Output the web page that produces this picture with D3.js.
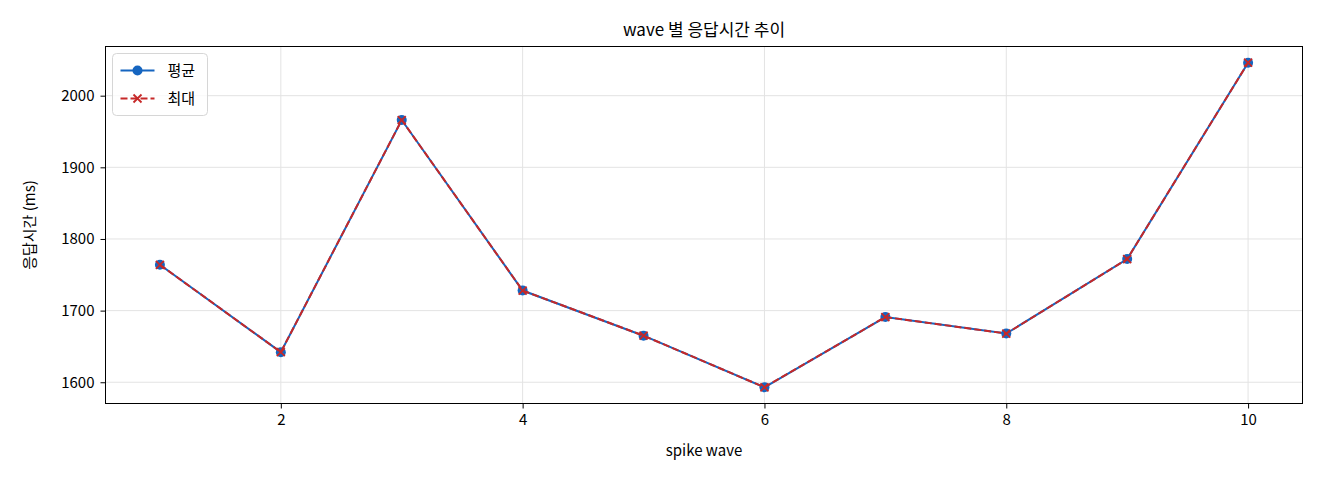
<!DOCTYPE html>
<html>
<head>
<meta charset="utf-8">
<script src="https://cdn.jsdelivr.net/npm/d3@7"></script>
<style>
  body { margin: 0; background: #fff; }
  text { font-family: "Noto Sans CJK KR", "Noto Sans", sans-serif; fill: #000; }
</style>
</head>
<body>
<svg width="1320" height="480"></svg>
<script>
let waves = [1, 2, 3, 4, 5, 6, 7, 8, 9, 10];
let avgMs = [1764, 1642, 1966, 1728, 1665, 1593, 1691, 1668, 1772, 2046];
let maxMs = [1764, 1642, 1966, 1728, 1665, 1593, 1691, 1668, 1772, 2046];
let xTicks = [2, 4, 6, 8, 10];
let yTicks = [1600, 1700, 1800, 1900, 2000];

let svg = d3.select("svg");
let m = { left: 105.5, top: 46.5, right: 1302.5, bottom: 403.5 };
let blue = "#1565C0";
let red = "#C62828";

let x = d3.scaleLinear().domain([0.55, 10.45]).range([m.left, m.right]);
let y = d3.scaleLinear().domain([1570.35, 2068.65]).range([m.bottom, m.top]);

//grid
let grid = svg.append("g").attr("stroke", "#e3e3e3").attr("stroke-width", 1);
grid.selectAll(".gx").data(xTicks).enter().append("line")
  .attr("x1", d => x(d)).attr("x2", d => x(d))
  .attr("y1", m.top).attr("y2", m.bottom);
grid.selectAll(".gy").data(yTicks).enter().append("line")
  .attr("y1", d => y(d)).attr("y2", d => y(d))
  .attr("x1", m.left).attr("x2", m.right);

//axes
let xAxis = svg.append("g")
  .attr("transform", `translate(0,${m.bottom})`)
  .call(d3.axisBottom(x).tickValues(xTicks).tickSize(5).tickPadding(6));
let yAxis = svg.append("g")
  .attr("transform", `translate(${m.left},0)`)
  .call(d3.axisLeft(y).tickValues(yTicks).tickFormat(d3.format("d")).tickSize(5).tickPadding(6));
[xAxis, yAxis].forEach(a => {
  a.select(".domain").remove();
  a.selectAll("text").style("font-size", "15px").attr("font-family", null);
  a.selectAll("line").attr("stroke", "#000");
});

svg.append("rect")
  .attr("x", m.left).attr("y", m.top)
  .attr("width", m.right - m.left).attr("height", m.bottom - m.top)
  .attr("fill", "none").attr("stroke", "#000").attr("stroke-width", 1);

//lines
let line = d3.line().x((d, i) => x(waves[i])).y(d => y(d));

svg.append("path").datum(avgMs)
  .attr("d", line).attr("fill", "none")
  .attr("stroke", blue).attr("stroke-width", 2);
svg.selectAll(".avg").data(avgMs).enter().append("circle")
  .attr("cx", (d, i) => x(waves[i])).attr("cy", d => y(d))
  .attr("r", 5).attr("fill", blue);

svg.append("path").datum(maxMs)
  .attr("d", line).attr("fill", "none")
  .attr("stroke", red).attr("stroke-width", 2)
  .attr("stroke-dasharray", "7,3");
let cross = (cx, cy, s) => `M${cx - s},${cy - s}L${cx + s},${cy + s}M${cx - s},${cy + s}L${cx + s},${cy - s}`;
svg.selectAll(".max").data(maxMs).enter().append("path")
  .attr("d", (d, i) => cross(x(waves[i]), y(d), 4))
  .attr("stroke", red).attr("stroke-width", 1.8).attr("fill", "none");

//title + labels
svg.append("text")
  .attr("x", (m.left + m.right) / 2).attr("y", 36)
  .attr("text-anchor", "middle").style("font-size", "17px")
  .text("wave 별 응답시간 추이");
svg.append("text")
  .attr("x", (m.left + m.right) / 2).attr("y", 456)
  .attr("text-anchor", "middle").style("font-size", "15px")
  .text("spike wave");
svg.append("text")
  .attr("transform", `translate(35,${(m.top + m.bottom) / 2}) rotate(-90)`)
  .attr("text-anchor", "middle").style("font-size", "15px")
  .text("응답시간 (ms)");

//legend
let lg = svg.append("g").attr("transform", "translate(112.5,53.5)");
lg.append("rect").attr("width", 95).attr("height", 62).attr("rx", 4)
  .attr("fill", "#fff").attr("fill-opacity", 0.8).attr("stroke", "#d6d6d6");
lg.append("line").attr("x1", 8).attr("x2", 42).attr("y1", 17).attr("y2", 17)
  .attr("stroke", blue).attr("stroke-width", 2);
lg.append("circle").attr("cx", 25).attr("cy", 17).attr("r", 5).attr("fill", blue);
lg.append("text").attr("x", 55).attr("y", 22).style("font-size", "15px").text("평균");
lg.append("line").attr("x1", 8).attr("x2", 42).attr("y1", 45).attr("y2", 45)
  .attr("stroke", red).attr("stroke-width", 2).attr("stroke-dasharray", "7,3");
lg.append("path").attr("d", cross(25, 45, 4)).attr("stroke", red).attr("stroke-width", 1.8);
lg.append("text").attr("x", 55).attr("y", 50).style("font-size", "15px").text("최대");
</script>
</body>
</html>
